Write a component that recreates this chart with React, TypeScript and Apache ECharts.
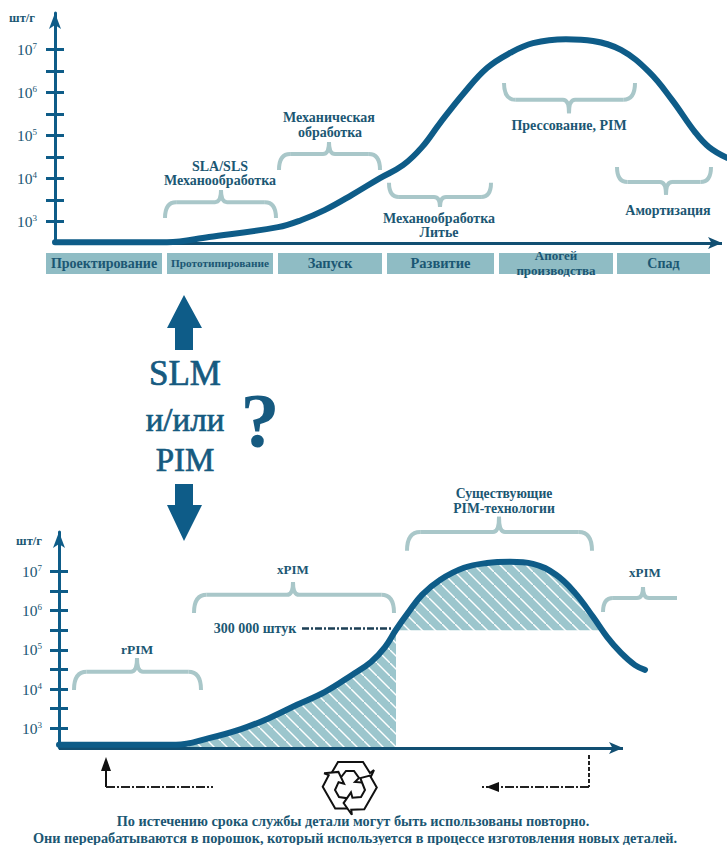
import React, { useEffect, useRef } from "react";
import * as echarts from "echarts";

// Production curves: [time, log10(pieces per year)]
const topCurve = [[0,2.52],[112,2.52],[154,2.64],[223,2.87],[246,3.03],[270,3.27],[297,3.62],[325,4.01],[348,4.31],[367,4.73],[385,5.29],[409,5.99],[432,6.57],[455,6.92],[478,7.15],[511,7.24],[538,7.2],[566,6.99],[594,6.48],[617,5.83],[640,5.08],[654,4.73],[672,4.48]];
const bottomCurve = [[0,2.58],[117,2.58],[150,2.75],[182,2.98],[210,3.26],[238,3.6],[266,3.93],[293,4.36],[312,4.69],[326,5.07],[337,5.51],[349,5.94],[363,6.4],[381,6.78],[405,7.09],[428,7.21],[451,7.24],[474,7.19],[497,6.91],[516,6.45],[534,5.84],[548,5.33],[562,4.92],[576,4.61],[586,4.49]];
const hatchLow = [[118,2.58],[150,2.75],[182,2.98],[210,3.26],[238,3.6],[266,3.93],[293,4.36],[312,4.69],[326,5.07],[337,5.4]];
const hatchHigh = [[337,5.5],[349,5.94],[363,6.4],[381,6.78],[405,7.09],[428,7.21],[451,7.24],[474,7.19],[497,6.91],[516,6.45],[534,5.84],[544,5.5]];
const threshold = 5.5;
const thresholdLine = [[243,5.54],[333,5.54]];
const topAxisEnd = 667;
const bottomAxisEnd = 564;

const tickValues = [3,3.5,4,4.5,5,5.5,6,6.5,7];
const labelValues = [3,4,5,6,7];

// Stages: [start, end, top, bottom]
const phaseNames = ["Проектирование","Прототипирование","Запуск","Развитие","Апогей\nпроизводства","Спад"];
const phaseSpans = [[-9,107,2.27,1.78],[112,218,2.27,1.78],[223,327,2.27,1.78],[332,439,2.27,1.78],[444,558,2.27,1.78],[562,655,2.27,1.78]];
const phaseFontSizes = [14,11.3,14.5,14.5,13,14];

// Braces: [start, centre, end, end-level, bar-level, tip-level, flatRight]
const topBraces = [[110,166,221,3.08,3.45,3.73,0],[224,274,325,4.2,4.57,4.85,0],[334,385,436,3.9,3.57,3.34,0],[449,514,580,6.22,5.83,5.52,0],[562,611,656,4.27,3.92,3.62,0]];
const bottomBraces = [[15,78,142,3.98,4.44,4.79,0],[135,234,335,5.94,6.4,6.73,0],[348,440,533,7.52,8,8.39,0],[544,584,618,5.96,6.32,6.6,1]];

// Annotations: [text, centre x, centre y, size]
const notes: [string, number, number, number][] = [
  ["шт/г",22,18,12.5],
  ["SLA/SLS",220,166,14],["Механообработка",220,180.5,14],
  ["Механическая",329,117,14],["обработка",330,132,14],
  ["Механообработка",439,218,14],["Литье",439,232,14],
  ["Прессование, PIM",569,125,14],["Амортизация",668,210,14],
  ["шт/г",29,541,12.5],["rPIM",137,649,13.5],["xPIM",293,569,13],
  ["Существующие",504,493,13.7],["PIM-технологии",504,508,13.7],["xPIM",645,572,13],
  ["300 000 штук",255,628,14],
  ["По истечению срока службы детали могут быть использованы повторно.",353,821,14.3],
  ["Они перерабатываются в порошок, который используется в процессе изготовления новых деталей.",355,838,14.3],
];
const bigWords: [string, number, number, number][] = [["SLM",185,373,35],["и/или",185,420,33],["PIM",185,460,33]];

const SERIF = "'Liberation Serif', serif";
const INK = "#1b5773";
const BLUE = "#0e5c88";
const BRACE = "#a9c7c9";

function hatchImage() {
  const c = document.createElement("canvas");
  c.width = 13; c.height = 13;
  const g = c.getContext("2d")!;
  g.fillStyle = "#9cc6cd"; g.fillRect(0,0,13,13);
  g.strokeStyle = "#ffffff"; g.lineWidth = 1.4;
  g.beginPath(); g.moveTo(-3,-3); g.lineTo(16,16); g.stroke();
  return c.toDataURL();
}

function braceItem(params: any, api: any) {
  const p = (x: number, y: number) => api.coord([x, y]);
  const [x0] = p(api.value(0), 5);
  const [xc] = p(api.value(1), 5);
  const [x1] = p(api.value(2), 5);
  const yE = p(0, api.value(3))[1];
  const yB = p(0, api.value(4))[1];
  const yT = p(0, api.value(5))[1];
  const flat = api.value(6) === 1;
  const r = Math.abs(yE - yB) * 0.7;
  const t = 6;
  const style = { stroke: BRACE, lineWidth: 4, fill: "none" };
  const bez = (a: number, b: number, c: number, d: number, e: number, f: number) => ({
    type: "bezierCurve", shape: { x1: a, y1: b, x2: c, y2: d, cpx1: e, cpy1: f }, style,
  });
  const line = (a: number, c: number) => ({ type: "line", shape: { x1: a, y1: yB, x2: c, y2: yB }, style });
  const children: any[] = [
    bez(x0, yE, x0 + r, yB, x0, yB),
    line(x0 + r, xc - t),
    bez(xc - t, yB, xc, yT, xc, yB),
    bez(xc, yT, xc + t, yB, xc, yB),
  ];
  if (flat) children.push(line(xc + t, x1));
  else children.push(line(xc + t, x1 - r), bez(x1 - r, yB, x1, yE, x1, yB));
  return { type: "group", children };
}

function phaseItem(params: any, api: any) {
  const a = api.coord([api.value(0), api.value(2)]);
  const b = api.coord([api.value(1), api.value(3)]);
  return {
    type: "group",
    children: [
      { type: "rect", shape: { x: a[0], y: a[1], width: b[0] - a[0], height: b[1] - a[1] }, style: { fill: "#8fbcc4" } },
      { type: "text", style: {
        text: phaseNames[params.dataIndex], x: (a[0] + b[0]) / 2, y: (a[1] + b[1]) / 2,
        align: "center", verticalAlign: "middle", lineHeight: 15,
        fontFamily: SERIF, fontWeight: "bold", fontSize: phaseFontSizes[params.dataIndex], fill: INK,
      } },
    ],
  };
}

const labelCfg = (margin: number) => ({
  show: true, margin, customValues: labelValues,
  formatter: (v: number) => `{b|10}{s|${v}}`,
  rich: {
    b: { fontFamily: SERIF, fontSize: 15.5, color: INK, fontWeight: "normal" },
    s: { fontFamily: SERIF, fontSize: 9, color: INK, verticalAlign: "top", padding: [0,0,7,0] },
  },
});

function yAxes(gridIndex: number, max: number, margin: number) {
  const common = { type: "value", gridIndex, position: "left", min: 2.5, max, splitLine: { show: false } };
  return [
    { ...common, axisLine: { show: true, lineStyle: { color: BLUE, width: 3 }, symbol: ["none","arrow"], symbolSize: [9,16] },
      axisTick: { show: true, customValues: tickValues, length: 9, lineStyle: { color: BLUE, width: 3 } },
      axisLabel: labelCfg(margin) },
    { ...common, axisLine: { show: false }, axisLabel: { show: false },
      axisTick: { show: true, inside: true, customValues: tickValues, length: 9, lineStyle: { color: BLUE, width: 3 } } },
  ];
}

function xAxis(gridIndex: number, max: number) {
  return {
    type: "value", gridIndex, min: 0, max, splitLine: { show: false }, axisTick: { show: false }, axisLabel: { show: false },
    axisLine: { show: false, onZero: false },
  };
}

const curveSeries = (data: number[][], x: number, y: number, end: number) => ({
  type: "line", data, xAxisIndex: x, yAxisIndex: y, symbol: "none", smooth: 0.4, clip: false, z: 5,
  lineStyle: { color: BLUE, width: 6, cap: "round" },
  markLine: {
    silent: true, animation: false, symbol: ["none","arrow"], symbolSize: [9,14], label: { show: false },
    lineStyle: { color: "#124f72", width: 3, type: "solid" },
    data: [[{ coord: [0, 2.5] }, { coord: [end, 2.5] }]],
  },
});

function recycle(cx: number, cy: number) {
  const pts = [[-19,-12],[-12,-24],[13,-24],[20,-13],[24,-16],[18,-3],[5,-4],[9,-8],[4,-15],[-4,-15],[-12,-5]];
  return [0, 1, 2].map((i) => ({
    type: "polygon", x: cx, y: cy, rotation: (i * 2 * Math.PI) / 3, z: 10,
    shape: { points: pts }, style: { fill: "#fff", stroke: "#111", lineWidth: 2 },
  }));
}

export default function App() {
  const ref = useRef<HTMLDivElement>(null);
  useEffect(() => {
    document.body.style.margin = "0";
    document.body.style.background = "#fff";
    const chart = echarts.init(ref.current!, null, { renderer: "svg" });
    const hatch = { image: hatchImage(), repeat: "repeat", imageWidth: 13, imageHeight: 13 };
    const arrowUp = [[184,295],[202,328],[193,328],[193,350],[175,350],[175,328],[167,328]];
    const arrowDown = [[175,484],[193,484],[193,505],[202,505],[184,541],[167,505],[175,505]];
    const darkLine = { stroke: "#222", lineWidth: 2, fill: "none", lineDash: [9,2,2,2] };
    chart.setOption({
      animation: false,
      backgroundColor: "#ffffff",
      grid: [
        { left: 55, top: 13, width: 672, height: 230 },
        { left: 59, top: 532, width: 600, height: 216 },
      ],
      xAxis: [xAxis(0, 672), xAxis(1, 600)],
      yAxis: [...yAxes(0, 7.85, 18), ...yAxes(1, 8, 17)],
      series: [
        curveSeries(topCurve, 0, 0, topAxisEnd),
        { type: "custom", xAxisIndex: 0, yAxisIndex: 0, data: topBraces, renderItem: braceItem, clip: false, z: 3, encode: { x: [0,1,2], y: [3,4,5] } },
        { type: "custom", xAxisIndex: 0, yAxisIndex: 0, data: phaseSpans, renderItem: phaseItem, clip: false, z: 3, encode: { x: [0,1], y: [2,3] } },
        { type: "line", data: hatchLow, xAxisIndex: 1, yAxisIndex: 2, symbol: "none", smooth: 0.4, lineStyle: { width: 0 }, areaStyle: { color: hatch, opacity: 1, origin: "start" }, z: 2 },
        { type: "line", data: hatchHigh, xAxisIndex: 1, yAxisIndex: 2, symbol: "none", smooth: 0.4, lineStyle: { width: 0 }, areaStyle: { color: hatch, opacity: 1, origin: threshold }, z: 2 },
        curveSeries(bottomCurve, 1, 2, bottomAxisEnd),
        { type: "line", data: thresholdLine, xAxisIndex: 1, yAxisIndex: 2, symbol: "none", lineStyle: { color: "#1d3f55", width: 2.5, type: [7,2,2,2] }, z: 4 },
        { type: "custom", xAxisIndex: 1, yAxisIndex: 2, data: bottomBraces, renderItem: braceItem, clip: false, z: 3, encode: { x: [0,1,2], y: [3,4,5] } },
      ],
      graphic: { elements: [
        ...notes.map(([text, x, y, fontSize]) => ({
          type: "text", x, y, z: 20,
          style: { text, fontSize, fontFamily: SERIF, fontWeight: "bold", fill: INK, align: "center", verticalAlign: "middle" },
        })),
        ...bigWords.map(([text, x, y, fontSize]) => ({
          type: "text", x, y, z: 20,
          style: { text, fontSize, fontFamily: SERIF, fill: "#165a80", stroke: "#165a80", lineWidth: 0.7, align: "center", verticalAlign: "middle" },
        })),
        { type: "text", x: 260, y: 420, z: 20, style: { text: "?", fontSize: 78, fontWeight: "bold", fontFamily: SERIF, fill: "#165a80", align: "center", verticalAlign: "middle" } },
        { type: "polygon", shape: { points: arrowUp }, style: { fill: BLUE } },
        { type: "polygon", shape: { points: arrowDown }, style: { fill: BLUE } },
        { type: "line", shape: { x1: 106, y1: 787, x2: 106, y2: 768 }, style: { stroke: "#111", lineWidth: 2 } },
        { type: "polygon", shape: { points: [[106,757],[111,771],[101,771]] }, style: { fill: "#111" } },
        { type: "line", shape: { x1: 106, y1: 787, x2: 213, y2: 787 }, style: darkLine },
        { type: "line", shape: { x1: 589, y1: 755, x2: 589, y2: 787 }, style: { stroke: "#222", lineWidth: 2, lineDash: [4,2] } },
        { type: "line", shape: { x1: 589, y1: 787, x2: 482, y2: 787 }, style: darkLine },
        { type: "polygon", shape: { points: [[486,787],[499,782],[499,792]] }, style: { fill: "#111" } },
        ...recycle(350, 786),
      ] },
    });
    return () => chart.dispose();
  }, []);
  return <div ref={ref} style={{ position: "absolute", left: 0, top: 0, width: 727, height: 845 }} />;
}
